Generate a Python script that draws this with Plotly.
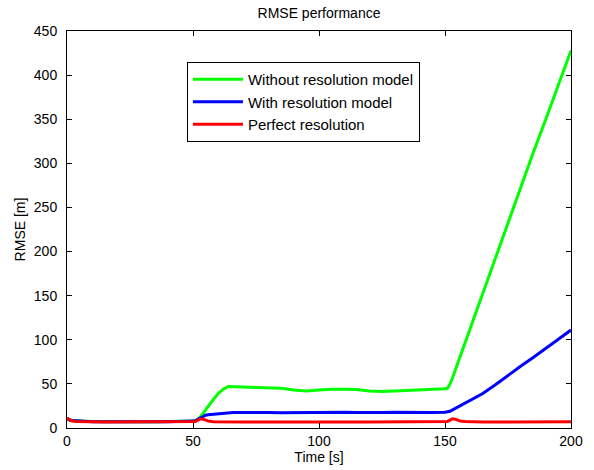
import plotly.graph_objects as go

time_s = [0, 1, 2, 4, 6, 10, 15, 20, 25, 30, 35, 40, 45, 50, 51, 52, 53, 54, 55, 56, 58, 60, 62, 64, 66,
          70, 75, 80, 85, 90, 95, 100, 105, 110, 115, 120, 125, 130, 135, 140, 145, 150,
          151, 152, 153, 154, 155, 156, 158, 160, 165, 170, 175, 180, 185, 190, 195, 200]

without_model = [11, 9, 8.5, 8, 7.8, 7.5, 7.2, 7, 7, 7, 7, 7.2, 7.5, 8, 8.5, 10, 13, 17, 21, 25, 32, 39, 44, 47, 47,
                 46.5, 46, 45.5, 45, 43, 42, 43, 44, 44, 43.5, 42, 41.5, 42, 42.5, 43, 44, 44.5,
                 45, 50, 57, 65, 73, 81, 97, 113, 153, 193, 233, 273, 312, 350, 389, 428]

with_model = [11, 9, 8.5, 8, 7.5, 7, 7, 6.8, 6.8, 6.8, 7, 7, 7.2, 7.8, 8.5, 10, 12, 13.5, 14.5, 15, 15.5, 16, 16.5, 17, 17.5,
              17.5, 17.8, 17.5, 17.3, 17.5, 17.3, 17.5, 17.5, 17.8, 17.5, 17.3, 17.5, 17.8, 17.5, 17.3, 17.5, 17.8,
              18, 19, 20.5, 22, 23.5, 25, 28, 31, 39, 49, 60, 70, 80, 90, 101, 111]

perfect = [11, 9, 8, 7.5, 7.2, 7, 6.8, 6.8, 6.8, 6.7, 6.8, 6.8, 6.9, 7, 7.5, 9, 10.5, 10, 9, 8, 7.2, 7,
           6.8, 6.8, 6.7, 6.8, 6.8, 6.7, 6.8, 6.8, 6.7, 6.8, 6.8, 6.8, 6.7, 6.8, 6.8, 6.7, 6.8, 6.8, 6.8, 7,
           7.5, 9, 10.5, 10, 9, 8, 7.3, 7, 6.9, 6.8, 6.8, 6.9, 6.8, 6.8, 6.9, 7]

series = [
    ("Without resolution model", without_model, "#00ff00"),
    ("With resolution model", with_model, "#0000ff"),
    ("Perfect resolution", perfect, "#ff0000"),
]

x_ticks = [0, 50, 100, 150, 200]
y_ticks = [0, 50, 100, 150, 200, 250, 300, 350, 400, 450]

fig = go.Figure()
for name, vals, col in series:
    fig.add_trace(go.Scatter(x=time_s, y=vals, mode="lines", name=name,
                             line=dict(color=col, width=3)))

axis_common = dict(showgrid=False, zeroline=False, showline=True, linecolor="black", linewidth=1,
                   mirror="ticks", ticks="inside", ticklen=5, tickcolor="black",
                   tickfont=dict(size=14, color="black"), automargin=False)

fig.update_layout(
    width=594, height=470,
    margin=dict(l=67, r=23, t=31, b=42),
    paper_bgcolor="white", plot_bgcolor="white",
    font=dict(family="Liberation Sans, Arial, sans-serif", size=14, color="black"),
    title=dict(text="RMSE performance", x=0.5, xref="paper", y=0.972, yanchor="middle",
               font=dict(size=14, color="black")),
    xaxis=dict(range=[0, 200], tickvals=x_ticks,
               title=dict(text="Time [s]", standoff=2, font=dict(size=14)), **axis_common),
    yaxis=dict(range=[0, 450], tickvals=y_ticks, ticklabelstandoff=6,
               title=dict(text="RMSE [m]", standoff=4, font=dict(size=14)), **axis_common),
    legend=dict(x=0.238, y=0.922, xanchor="left", yanchor="top",
                bgcolor="white", bordercolor="black", borderwidth=1,
                font=dict(size=15, color="black"), itemwidth=50),
    showlegend=True,
)

fig.write_html("out.html", config={"displayModeBar": False},
               post_script="document.body.style.margin='0';")
